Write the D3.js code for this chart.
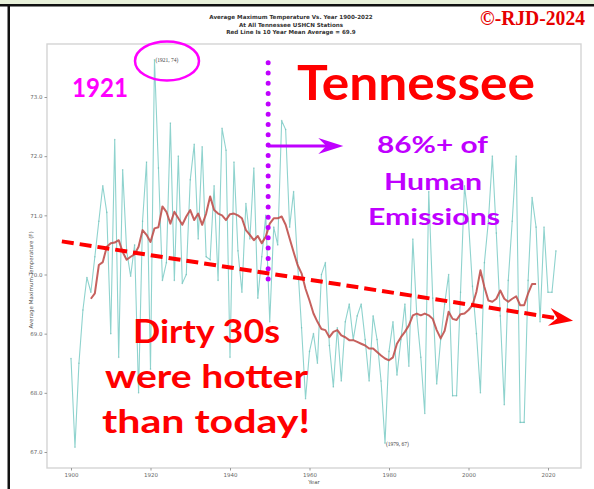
<!DOCTYPE html>
<html>
<head>
<meta charset="utf-8">
<script src="https://cdn.jsdelivr.net/npm/d3@7"></script>
<style>
  body { margin: 0; background: #fff; }
  svg { display: block; }
</style>
</head>
<body>
<div id="chart"></div>
<script>
// yearly average maximum temperature (F), 1900-2022
const firstYear = 1900;
const annualTemp = [
    68.58, 67.08, 68.5, 69.4, 69.95, 69.7, 70.3, 70.9, 71.5, 71.05,   // 1900s
    69.0, 72.28, 68.6, 71.77, 70.4, 69.97, 70.5, 68.0, 70.9, 71.9,    // 1910s
    68.4, 73.63, 71.8, 69.9, 70.2, 72.56, 69.9, 72.0, 69.85, 70.0,    // 1920s
    71.6, 72.2, 70.6, 72.16, 70.3, 70.25, 71.5, 69.9, 72.47, 72.1,    // 1930s
    68.6, 71.9, 70.4, 69.7, 71.2, 70.6, 71.8, 69.6, 70.3, 71.0,       // 1940s
    69.2, 70.8, 70.5, 72.6, 72.45, 70.8, 71.4, 70.2, 69.1, 67.9,      // 1950s
    68.7, 69.0, 68.5, 70.0, 70.2, 68.8, 68.1, 69.1, 68.2, 69.2,       // 1960s
    69.5, 68.9, 69.3, 69.5, 68.9, 68.2, 69.3, 68.9, 68.2, 67.15,      // 1970s
    68.7, 69.2, 68.3, 68.9, 69.5, 68.45, 70.6, 69.3, 68.6, 67.65,     // 1980s
    71.4, 69.6, 68.15, 68.9, 69.5, 70.0, 67.95, 67.95, 69.7, 71.5,    // 1990s
    70.9, 69.8, 69.0, 68.0, 70.2, 70.9, 72.0, 70.7, 69.3, 67.8,       // 2000s
    69.9, 70.9, 72.0, 67.5, 67.5, 69.9, 71.3, 70.8, 69.2, 70.8,       // 2010s
    69.7, 69.7, 70.4                                                  // 2020s
];

// 10 year mean (red line), 1905-2017
const meanFirstYear = 1905;
const meanTemp = [
    69.59, 69.68, 70.16, 70.21, 70.47,                                // 1905-1909
    70.53, 70.54, 70.58, 70.38, 70.25, 70.3, 70.34, 70.47, 70.75, 70.67,
    70.55, 70.78, 70.8, 71.15, 71.06, 70.86, 71.06, 70.95, 70.84, 70.98,
    71.09, 70.92, 71.03, 70.84, 71.03, 71.32, 71.09, 71.03, 71.0, 70.92,
    71.02, 71.03, 71.0, 70.95, 70.75, 70.67, 70.58, 70.65, 70.53, 70.64,
    70.86, 70.95, 70.95, 70.98, 70.84, 70.61, 70.38, 70.16, 70.02, 69.76,
    69.56, 69.34, 69.2, 69.08, 69.06, 68.94, 69.03, 69.06, 68.97, 68.94,
    68.89, 68.89, 68.86, 68.83, 68.8, 68.75, 68.75, 68.69, 68.63, 68.58,
    68.55, 68.6, 68.83, 68.94, 69.03, 69.14, 69.31, 69.34, 69.31, 69.34,
    69.31, 69.25, 69.06, 68.92, 69.05, 69.37, 69.25, 69.23, 69.33, 69.34,
    69.4, 69.48, 69.71, 70.07, 69.79, 69.56, 69.54, 69.59, 69.73, 69.59,
    69.54, 69.59, 69.63, 69.48, 69.48, 69.68, 69.84, 69.84            // 2010-2017
];

const xTicks = [1900, 1920, 1940, 1960, 1980, 2000, 2020];
const yTicks = [67, 68, 69, 70, 71, 72, 73];
const titleLines = [
    "Average Maximum Temperature Vs. Year 1900-2022",
    "At All Tennessee USHCN Stations",
    "Red Line Is 10 Year Mean  Average = 69.9"
];
// annotations in data units [year, temp]
const trendStart = [1897.7, 70.56];
const trendEnd = [2026.3, 69.22];
const markYear = 1949.6;
const markTop = 73.58, markBottom = 69.88;
const arrowTemp = 72.17, arrowEndYear = 1968.5;
const peakPoint = [1921, 73.63], lowPoint = [1979, 67.15];

const W = 594, H = 489;
const box = {left: 47, top: 44, right: 581, bottom: 468};

const svg = d3.select("#chart").append("svg")
    .attr("width", W).attr("height", H);

// page frame
svg.append("rect").attr("x", 0).attr("y", 0).attr("width", W).attr("height", 4).attr("fill", "#e8f1da");
svg.append("rect").attr("x", 0).attr("y", 4).attr("width", W).attr("height", 2.5).attr("fill", "#111");
svg.append("rect").attr("x", 7.5).attr("y", 4).attr("width", 2.5).attr("height", H).attr("fill", "#111");

const x = d3.scaleLinear().domain([1900, 2020]).range([71, 548]);
const y = d3.scaleLinear().domain([67, 73]).range([452, 97]);

// axes box
svg.append("rect")
    .attr("x", box.left).attr("y", box.top)
    .attr("width", box.right - box.left).attr("height", box.bottom - box.top)
    .attr("fill", "#fff").attr("stroke", "#d4d4d4").attr("stroke-width", 1.4);

svg.append("g")
    .attr("transform", `translate(${box.left},0)`)
    .call(d3.axisLeft(y).tickValues(yTicks).tickSize(2.5).tickPadding(2))
    .call(g => g.select(".domain").remove())
    .call(g => g.selectAll("line").attr("stroke", "#999"))
    .call(g => g.selectAll("text").attr("fill", "#666").attr("font-size", 5.5).attr("font-family", "DejaVu Sans"));

svg.append("g")
    .attr("transform", `translate(0,${box.bottom})`)
    .call(d3.axisBottom(x).tickValues(xTicks).tickFormat(d3.format("d")).tickSize(2.5).tickPadding(3))
    .call(g => g.select(".domain").remove())
    .call(g => g.selectAll("line").attr("stroke", "#999"))
    .call(g => g.selectAll("text").attr("fill", "#666").attr("font-size", 5.5).attr("font-family", "DejaVu Sans"));

svg.append("text")
    .attr("transform", "translate(33,280) rotate(-90)")
    .attr("text-anchor", "middle")
    .attr("font-family", "DejaVu Sans").attr("font-size", 5.5).attr("fill", "#555")
    .text("Average Maximum Temperature (F)");

svg.append("text")
    .attr("x", 314).attr("y", 484)
    .attr("text-anchor", "middle")
    .attr("font-family", "DejaVu Sans").attr("font-size", 5.5).attr("fill", "#555")
    .text("Year");

// title
svg.append("g").selectAll("text")
    .data(titleLines)
    .join("text")
    .attr("x", 291).attr("y", (d, i) => 19 + i * 7.5)
    .attr("text-anchor", "middle")
    .attr("font-family", "DejaVu Sans").attr("font-weight", "bold")
    .attr("font-size", 5.6).attr("fill", "#333")
    .text(d => d);

svg.append("text")
    .attr("x", 480).attr("y", 25)
    .attr("font-family", "Liberation Serif").attr("font-weight", "bold")
    .attr("font-size", 20).attr("fill", "#e60000")
    .attr("textLength", 105).attr("lengthAdjust", "spacingAndGlyphs")
    .text("©-RJD-2024");

// yearly line
const annual = annualTemp.map((t, i) => ({year: firstYear + i, temp: t}));
const mean = meanTemp.map((t, i) => ({year: meanFirstYear + i, temp: t}));

const line = d3.line().x(d => x(d.year)).y(d => y(d.temp));

svg.append("path")
    .attr("fill", "none")
    .attr("stroke", "#8fd3ce")
    .attr("stroke-width", 1.1)
    .attr("d", line(annual));

svg.append("g").attr("fill", "#6dbcb6").attr("opacity", 0.6)
    .selectAll("circle")
    .data(annual)
    .join("circle")
    .attr("cx", d => x(d.year)).attr("cy", d => y(d.temp)).attr("r", 0.8);

svg.append("path")
    .attr("fill", "none")
    .attr("stroke", "#c0504d")
    .attr("stroke-opacity", 0.9)
    .attr("stroke-width", 2)
    .attr("stroke-linejoin", "round")
    .attr("d", line(mean));

// point labels
svg.append("text")
    .attr("x", x(peakPoint[0]) + 1).attr("y", y(peakPoint[1]) + 2)
    .attr("font-family", "Liberation Serif").attr("font-size", 5.5).attr("fill", "#444")
    .text(`(${peakPoint[0]}, ${Math.round(peakPoint[1])})`);
svg.append("text")
    .attr("x", x(lowPoint[0]) + 1).attr("y", y(lowPoint[1]) + 3)
    .attr("font-family", "Liberation Serif").attr("font-size", 5.5).attr("fill", "#444")
    .text(`(${lowPoint[0]}, ${Math.round(lowPoint[1])})`);

// magenta ellipse round the 1921 peak
svg.append("ellipse")
    .attr("cx", x(1924.15)).attr("cy", y(73.61))
    .attr("rx", 32).attr("ry", 19.5)
    .attr("fill", "none").attr("stroke", "#ff00ff").attr("stroke-width", 2.5);

// red dashed trend arrow
const tx1 = x(trendStart[0]), ty1 = y(trendStart[1]);
const tx2 = x(trendEnd[0]), ty2 = y(trendEnd[1]);
const ang = Math.atan2(ty2 - ty1, tx2 - tx1);
const ca = Math.cos(ang), sa = Math.sin(ang);
svg.append("line")
    .attr("x1", tx1).attr("y1", ty1)
    .attr("x2", tx2 - 15 * ca).attr("y2", ty2 - 15 * sa)
    .attr("stroke", "#ff0000").attr("stroke-width", 4)
    .attr("stroke-dasharray", "12,6");
const head = [[0, 0], [-24, -9], [-16, 0], [-24, 9]]
    .map(([px, py]) => [tx2 + px * ca - py * sa, ty2 + px * sa + py * ca]);
svg.append("path")
    .attr("d", "M" + head.join("L") + "Z")
    .attr("fill", "#ff0000");

// purple dotted marker line and arrow
svg.append("line")
    .attr("x1", x(markYear)).attr("y1", y(markTop))
    .attr("x2", x(markYear)).attr("y2", y(markBottom))
    .attr("stroke", "#bf00ff").attr("stroke-width", 5)
    .attr("stroke-linecap", "round")
    .attr("stroke-dasharray", "0,10.3");

const ax1 = x(markYear), ax2 = x(arrowEndYear), ay = y(arrowTemp);
svg.append("line")
    .attr("x1", ax1).attr("y1", ay).attr("x2", ax2 - 14).attr("y2", ay)
    .attr("stroke", "#bf00ff").attr("stroke-width", 3);
svg.append("path")
    .attr("d", `M${ax2},${ay}L${ax2 - 25},${ay - 8}L${ax2 - 17},${ay}L${ax2 - 25},${ay + 8}Z`)
    .attr("fill", "#bf00ff");

// big annotation texts
const bigFont = "'Century Gothic', Lato, 'DejaVu Sans', sans-serif";
function bigText(str, x0, y0, size, len, color) {
    svg.append("text")
        .attr("x", x0).attr("y", y0)
        .attr("font-family", bigFont).attr("font-weight", "bold")
        .attr("font-size", size).attr("fill", color)
        .attr("textLength", len).attr("lengthAdjust", "spacingAndGlyphs")
        .text(str);
}
bigText("Tennessee", 297, 100, 47, 238, "#ff0000");
bigText("1921", 72, 97, 27, 56, "#ff00ff");
bigText("86%+ of", 377, 153, 23, 111, "#bf00ff");
bigText("Human", 384, 190, 23, 98, "#bf00ff");
bigText("Emissions", 368, 225, 23, 132, "#bf00ff");
bigText("Dirty 30s", 133, 343, 33, 147, "#ff0000");
bigText("were hotter", 105, 388, 33, 203, "#ff0000");
bigText("than today!", 102, 433, 33, 208, "#ff0000");
</script>
</body>
</html>
